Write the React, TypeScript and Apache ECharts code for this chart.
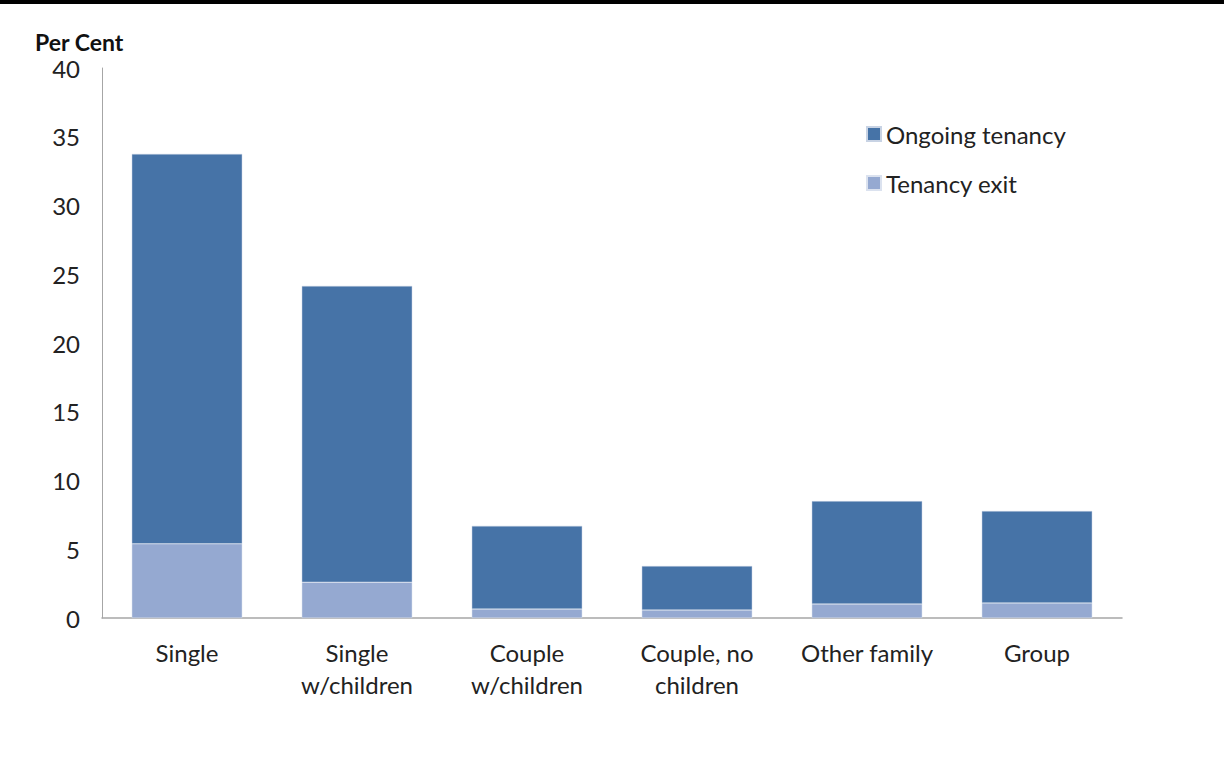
import React, { useEffect, useRef } from "react";
import * as echarts from "echarts";

const categories = ["Single", "Single\nw/children", "Couple\nw/children", "Couple, no\nchildren", "Other family", "Group"];
const tenancyExit = [5.4, 2.6, 0.65, 0.58, 1.02, 1.1];
const totals = [33.75, 24.15, 6.7, 3.78, 8.5, 7.78];
const ongoingTenancy = totals.map((t, i) => +(t - tenancyExit[i]).toFixed(2));
const yTicks = { min: 0, max: 40, interval: 5 };

const FONT = "Lato, 'Open Sans', sans-serif";

export default function App() {
  const ref = useRef<HTMLDivElement>(null);
  useEffect(() => {
    if (!ref.current) return;
    const chart = echarts.init(ref.current, null, { renderer: "svg" });
    chart.setOption({
      animation: false,
      backgroundColor: "#ffffff",
      textStyle: { fontFamily: FONT },
      grid: { left: 102, right: 102, top: 68, bottom: 143 },
      graphic: [
        { type: "rect", left: 0, top: 0, shape: { x: 0, y: 0, width: 1224, height: 4 }, style: { fill: "#000" } },
        {
          type: "text",
          left: 35,
          top: 30,
          style: { text: "Per Cent", fontFamily: FONT, fontSize: 23, lineHeight: 23, fontWeight: "bold", fill: "#111" },
        },
      ],
      legend: {
        orient: "vertical",
        left: 861,
        top: 117,
        itemWidth: 14,
        itemHeight: 14,
        itemGap: 25,
        icon: "rect",
        textStyle: { fontFamily: FONT, fontSize: 24, color: "#222" },
        data: ["Ongoing tenancy", "Tenancy exit"],
      },
      xAxis: {
        type: "category",
        data: categories,
        axisLine: { lineStyle: { color: "#a6a6a6", width: 1.5 } },
        axisTick: { show: false },
        axisLabel: { interval: 0, fontFamily: FONT, fontSize: 24, color: "#222", margin: 18, lineHeight: 32 },
      },
      yAxis: {
        type: "value",
        min: yTicks.min,
        max: yTicks.max,
        interval: yTicks.interval,
        splitLine: { show: false },
        axisLine: { show: true, lineStyle: { color: "#a6a6a6", width: 1 } },
        axisTick: { show: false },
        axisLabel: { fontFamily: FONT, fontSize: 24, lineHeight: 22, color: "#222", margin: 22 },
      },
      series: [
        {
          name: "Tenancy exit",
          type: "bar",
          stack: "a",
          data: tenancyExit,
          barWidth: "65%",
          itemStyle: { color: "#95a9d1", borderColor: "#dbe2ef", borderWidth: 0.5 },
        },
        {
          name: "Ongoing tenancy",
          type: "bar",
          stack: "a",
          data: ongoingTenancy,
          barWidth: "65%",
          itemStyle: { color: "#4673a7", borderColor: "#c8d3e4", borderWidth: 0.5 },
        },
      ],
    });
    return () => chart.dispose();
  }, []);
  return <div ref={ref} style={{ position: "absolute", left: 0, top: 0, width: 1224, height: 761 }} />;
}
